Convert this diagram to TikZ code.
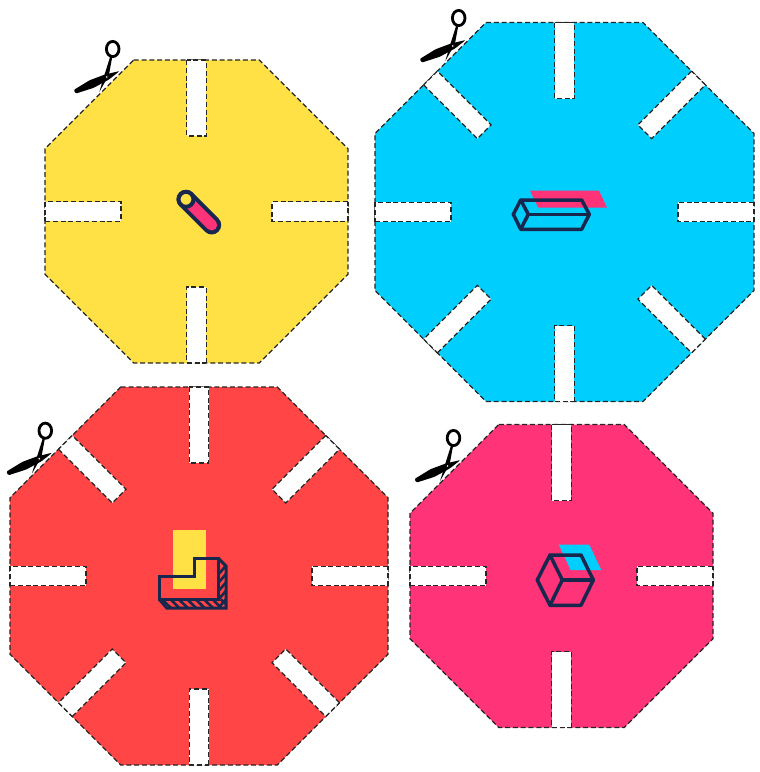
\documentclass[tikz,border=0pt]{standalone}
\definecolor{navy}{HTML}{17274D}
\definecolor{cyellow}{HTML}{FFE045}
\definecolor{cblue}{HTML}{00CFFD}
\definecolor{cred}{HTML}{FF4545}
\definecolor{cpink}{HTML}{FF3378}
\definecolor{cutc}{HTML}{262626}
\tikzset{
  cutline/.style={draw=cutc,line width=1.2pt,dash pattern=on 5pt off 2.8pt},
  iconline/.style={draw=navy,line width=3.5pt,line join=round,line cap=round},
  blockline/.style={draw=navy,line width=3pt,line join=miter,line cap=butt},
  hatchline/.style={draw=navy,line width=2.6pt}
}
% centre x, centre y, half size, colour, list of slot angles
\newcommand{\octa}[5]{%
  \begin{scope}[shift={(#1,#2)}]
    \pgfmathsetmacro{\hs}{#3}
    \pgfmathsetmacro{\ct}{#3*0.5858}
    \path[fill=#4,cutline] (-\hs+\ct,-\hs) -- (\hs-\ct,-\hs) -- (\hs,-\hs+\ct) -- (\hs,\hs-\ct)
      -- (\hs-\ct,\hs) -- (-\hs+\ct,\hs) -- (-\hs,\hs-\ct) -- (-\hs,-\hs+\ct) -- cycle;
    \foreach \a in {#5}{
      \path[rotate=\a,fill=white,cutline] (-9.75,-\hs) rectangle (9.75,-\hs+76);
    }
  \end{scope}}
% pivot position
\newcommand{\sciss}[2]{%
  \begin{scope}[shift={(#1,#2)}]
    \draw[black,line width=2.8pt] (6,-28) ellipse (6.3 and 7.6);
    \fill[black] (3.6,-20.8) -- (5.6,-20.4) -- (2.2,-2) -- (-7.4,15) -- (-2.6,-1) -- cycle;
    \fill[black,rounded corners=1.2pt] (-33,13) -- (-17,3.2) -- (-2,-2.4) -- (13,-6) -- (2.4,2.4) -- (-13,10.8) -- (-31,16.6) -- cycle;
    \fill[white] (0,0) circle (1.6);
    \draw[black,line width=0.6pt] (0,0) circle (1.6);
  \end{scope}}
\begin{document}
\begin{tikzpicture}[x=1pt,y=-1pt]
\useasboundingbox (0,0) rectangle (760,772);
\fill[white] (0,0) rectangle (760,772);

\octa{196.5}{211.5}{151.5}{cyellow}{0,90,180,270}
\octa{564.5}{212}{189.5}{cblue}{0,45,90,135,180,225,270,315}
\octa{199}{576}{189}{cred}{0,45,90,135,180,225,270,315}
\octa{561.5}{576}{151.5}{cpink}{0,90,180,270}

\sciss{106.7}{77}
\sciss{452.7}{46}
\sciss{39.3}{458.7}
\sciss{447.5}{466}

% yellow board: capsule
\draw[navy,line width=19pt,line cap=round] (186,199.3) -- (211.7,225);
\draw[cpink,line width=11pt,line cap=round] (186,199.3) -- (211.7,225);
\filldraw[fill=cyellow,draw=navy,line width=4pt] (186,199.3) circle (7.5);

% blue board: bar
\fill[cpink] (530,190.7) -- (599,190.7) -- (607,207.7) -- (538.3,207.7) -- cycle;
\path[iconline] (513.3,214.3) -- (520.7,200) -- (581.7,200) -- (589.3,214.3) -- (581.7,229.3) -- (520.7,229.3) -- cycle;
\path[iconline] (520.7,200) -- (528.3,214.3) -- (520.7,229.3);
\path[iconline] (528.3,214.3) -- (589.3,214.3);

% red board: L block
\fill[cyellow] (173,530) rectangle (206,588.7);
\begin{scope}
  \clip (159,599.3) -- (218.3,599.3) -- (218.3,558.3) -- (226.4,566) -- (226.4,608.4) -- (166.7,608.4) -- cycle;
  \foreach \i in {0,...,7}{
    \draw[hatchline] (162+\i*8.4,599.3) -- (171.5+\i*8.4,608.5);
  }
  \foreach \i in {0,...,5}{
    \draw[hatchline] (218.3,574.5+\i*8.4) -- (226.5,565+\i*8.4);
  }
\end{scope}
\path[blockline] (159.3,576.7) -- (194.3,576.7) -- (194.3,558.3) -- (218.3,558.3) -- (218.3,599.3) -- (159.3,599.3) -- cycle;
\path[blockline] (218.3,558.3) -- (226,566) -- (226,608) -- (166.7,608) -- (159.3,599.3);

% pink board: cube
\fill[cblue] (558.7,544.7) -- (589.3,544.7) -- (601.3,570) -- (570.7,570) -- cycle;
\path[iconline] (537.3,580) -- (550,555) -- (581,555) -- (593.3,580) -- (581,605.3) -- (550,605.3) -- cycle;
\path[iconline] (550,555) -- (562.3,580) -- (550,605.3);
\path[iconline] (562.3,580) -- (593.3,580);
\end{tikzpicture}
\end{document}
